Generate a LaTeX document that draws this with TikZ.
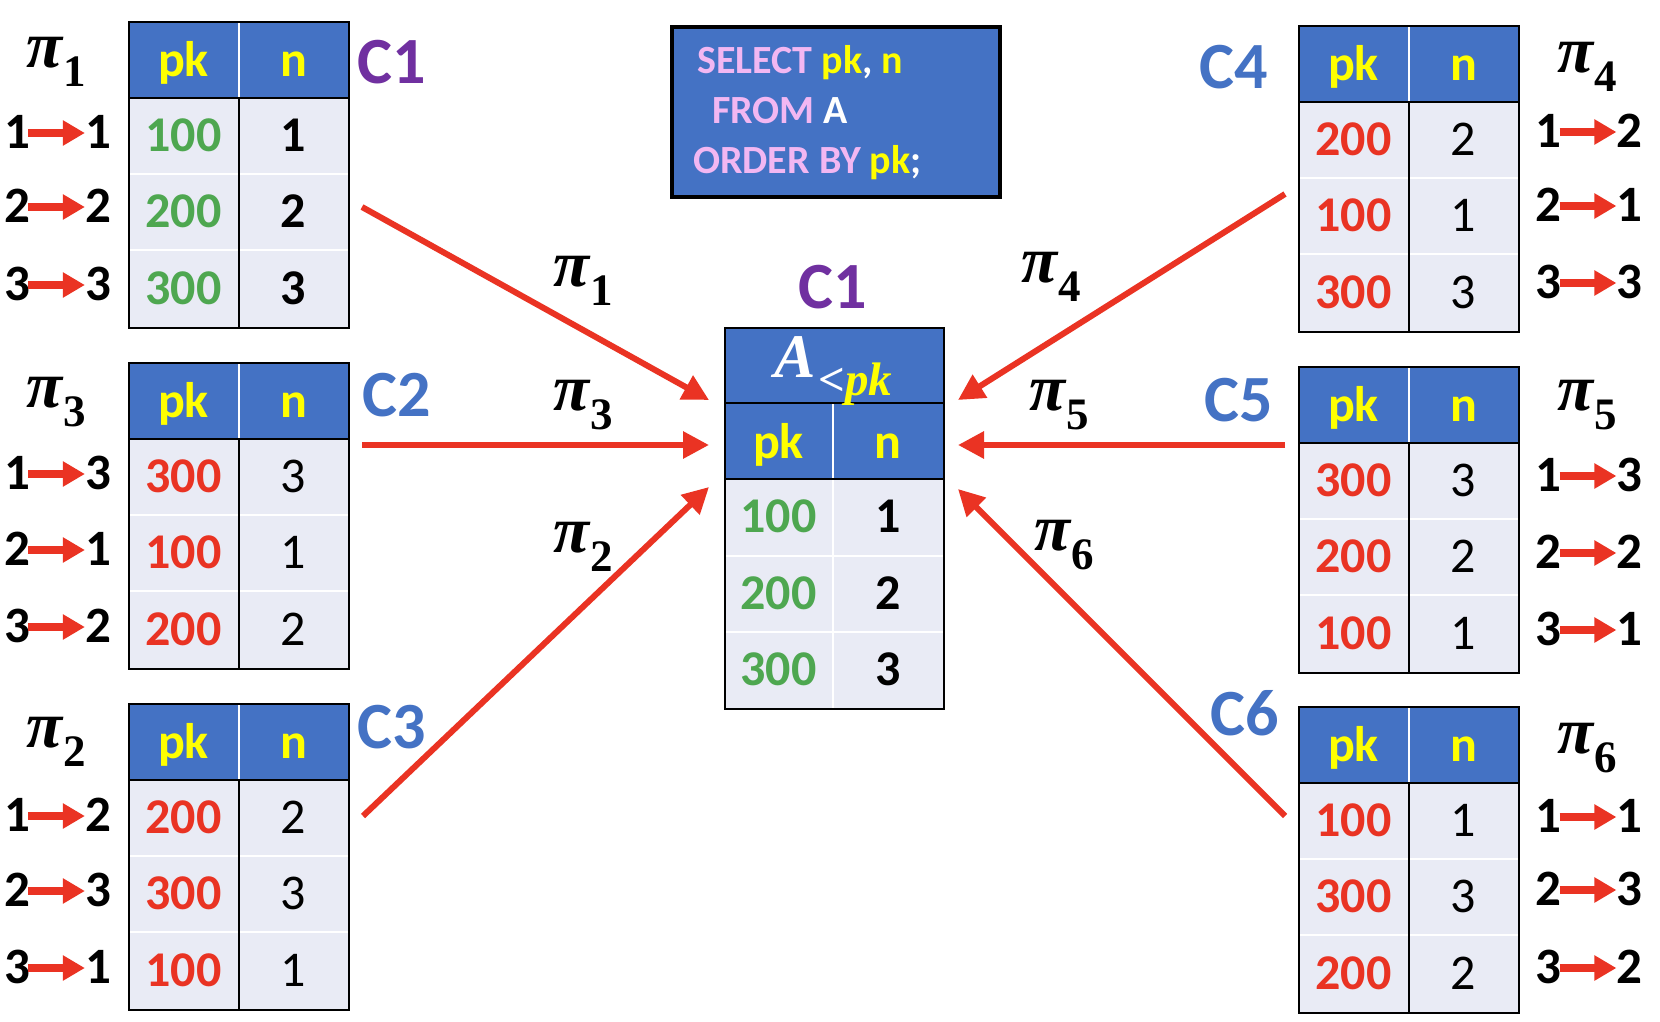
\documentclass[tikz,border=0pt]{standalone}
\usepackage{fontspec}
\setmainfont{Carlito}
\newfontfamily\pifont{Liberation Serif}
\usetikzlibrary{arrows.meta,calc}
\definecolor{hdrblue}{RGB}{68,114,196}
\definecolor{bodyc}{RGB}{233,235,245}
\definecolor{pkgreen}{RGB}{78,167,80}
\definecolor{pkred}{RGB}{233,51,35}
\definecolor{hdryel}{RGB}{255,255,0}
\definecolor{sqlpink}{RGB}{242,183,242}
\definecolor{cpurple}{RGB}{112,48,160}
\definecolor{cblue}{RGB}{68,114,196}
\definecolor{arrred}{RGB}{234,51,35}
\newcommand\pkG[1]{\textcolor{pkgreen}{#1}}
\newcommand\pkR[1]{\textcolor{pkred}{#1}}
\newcommand\nBo[1]{\textcolor{black}{#1}}
\newcommand\nRe[1]{\textcolor{black}{\mdseries #1}}
\newcommand\piS[1]{{\pifont\bfseries\itshape π}\kern1pt\raisebox{-0.28em}{\pifont\bfseries\fontsize{45}{45}\selectfont #1}}
\tikzset{
  cell/.style={font=\fontsize{50}{50}\selectfont\bfseries, inner sep=0pt, text height=31pt, text depth=0pt, anchor=center},
  hdrtxt/.style={cell, text=hdryel},
  mapd/.style={font=\fontsize{51}{51}\selectfont\bfseries, inner sep=0pt, text height=31pt, text depth=0pt},
  maparrow/.style={draw=arrred, line width=8pt, -{Triangle[length=22pt,width=24pt]}, shorten <=-2pt},
  bigarrow/.style={draw=arrred, line width=6pt, -{Triangle[length=26pt,width=26pt]}},
  clabel/.style={font=\fontsize{66}{66}\selectfont\bfseries, inner sep=0pt},
  pilabel/.style={font=\fontsize{66}{66}\selectfont, inner sep=0pt},
  sqltxt/.style={font=\fontsize{40}{40}\selectfont\bfseries, inner sep=0pt, anchor=west, text height=27pt, text depth=0pt},
}
\newcommand\dbtable[9]{%
  \begin{scope}[shift={(#2,#3)}]
    \fill[hdrblue] (0,0) rectangle (220,77);
    \fill[bodyc] (0,77) rectangle (220,306);
    \draw[white, line width=2pt] (0,153) -- (220,153) (0,229) -- (220,229);
    \draw[white, line width=1.5pt] (111,0) -- (111,77);
    \draw[black, line width=2pt] (111,77) -- (111,306);
    \draw[black, line width=2pt] (0,77) -- (220,77);
    \node[draw=black, line width=2pt, minimum width=220pt, minimum height=306pt, anchor=north west, inner sep=0pt] (#1) at (0,0) {};
    \node[hdrtxt] (#1-h1) at (55.5,40) {pk};
    \node[hdrtxt] (#1-h2) at (165.5,40) {n};
    \node[cell] (#1-a1) at (55.5,115) {#4};
    \node[cell] (#1-b1) at (165.5,115) {#5};
    \node[cell] (#1-a2) at (55.5,191) {#6};
    \node[cell] (#1-b2) at (165.5,191) {#7};
    \node[cell] (#1-a3) at (55.5,268) {#8};
    \node[cell] (#1-b3) at (165.5,268) {#9};
  \end{scope}}
\newcommand\maprow[5]{%
  \node[mapd] (#1a) at (#2-40.5,#3) {#4};
  \node[mapd] (#1b) at (#2+40.5,#3) {#5};
  \draw[maparrow] (#1a.east) -- (#1b.west);}
\begin{document}
\begin{tikzpicture}[x=1pt,y=-1pt]
\fill[white] (0,0) rectangle (1660,1022);
\useasboundingbox (0,0) rectangle (1660,1022);

% side tables
\dbtable{t1}{128}{21}{\pkG{100}}{\nBo{1}}{\pkG{200}}{\nBo{2}}{\pkG{300}}{\nBo{3}}
\dbtable{t2}{128}{362}{\pkR{300}}{\nRe{3}}{\pkR{100}}{\nRe{1}}{\pkR{200}}{\nRe{2}}
\dbtable{t3}{128}{703}{\pkR{200}}{\nRe{2}}{\pkR{300}}{\nRe{3}}{\pkR{100}}{\nRe{1}}
\dbtable{t4}{1298}{25}{\pkR{200}}{\nRe{2}}{\pkR{100}}{\nRe{1}}{\pkR{300}}{\nRe{3}}
\dbtable{t5}{1298}{366}{\pkR{300}}{\nRe{3}}{\pkR{200}}{\nRe{2}}{\pkR{100}}{\nRe{1}}
\dbtable{t6}{1298}{706}{\pkR{100}}{\nRe{1}}{\pkR{300}}{\nRe{3}}{\pkR{200}}{\nRe{2}}

% centre table
\begin{scope}[shift={(724,327)}]
  \fill[hdrblue] (0,0) rectangle (219,152);
  \fill[bodyc] (0,152) rectangle (219,381);
  \draw[white, line width=2pt] (0,229) -- (219,229) (0,305) -- (219,305);
  \draw[white, line width=2pt] (109,76) -- (109,381);
  \draw[black, line width=2pt] (0,76) -- (219,76) (0,152) -- (219,152);
  \node[draw=black, line width=2pt, minimum width=219pt, minimum height=381pt, anchor=north west, inner sep=0pt] (ct) at (0,0) {};
  \node[inner sep=0pt, font=\fontsize{62}{62}\selectfont\pifont\bfseries, text=white] (ct-title) at (109.5,44)
     {\textit{A}\kern2pt\raisebox{-0.3em}{\fontsize{47}{47}\selectfont<\textcolor{hdryel}{\textit{pk}}}};
  \node[hdrtxt] (ct-h1) at (54.5,116) {pk};
  \node[hdrtxt] (ct-h2) at (164,116) {n};
  \node[cell] (ct-a1) at (54.5,190) {\pkG{100}};
  \node[cell] (ct-b1) at (164,190) {1};
  \node[cell] (ct-a2) at (54.5,267) {\pkG{200}};
  \node[cell] (ct-b2) at (164,267) {2};
  \node[cell] (ct-a3) at (54.5,343) {\pkG{300}};
  \node[cell] (ct-b3) at (164,343) {3};
\end{scope}

% SQL box
\node[draw=black, line width=4pt, fill=hdrblue, minimum width=328pt, minimum height=170pt, anchor=north west, inner sep=0pt] (sql) at (670,25) {};
\node[sqltxt] (sql1) at (697,60) {\textcolor{sqlpink}{SELECT} \textcolor{hdryel}{pk}\textcolor{white}{,} \textcolor{hdryel}{n}};
\node[sqltxt] (sql2) at (712,110) {\textcolor{sqlpink}{FROM} \textcolor{white}{A}};
\node[sqltxt] (sql3) at (693,160) {\textcolor{sqlpink}{ORDER BY} \textcolor{hdryel}{pk}\textcolor{white}{;}};

% C labels
\node[clabel, text=cpurple] (lc1) at (392,62) {C1};
\node[clabel, text=cblue] (lc2) at (397,395) {C2};
\node[clabel, text=cblue] (lc3) at (392,727) {C3};
\node[clabel, text=cblue] (lc4) at (1234,67) {C4};
\node[clabel, text=cblue] (lc5) at (1239,400) {C5};
\node[clabel, text=cblue] (lc6) at (1245,713) {C6};
\node[clabel, text=cpurple] (lcc) at (833,287) {C1};

% pi labels beside tables
\node[pilabel] (p1) at (56,62) {\piS{1}};
\node[pilabel] (p3) at (56,402) {\piS{3}};
\node[pilabel] (p2) at (56,742) {\piS{2}};
\node[pilabel] (p4) at (1587,67) {\piS{4}};
\node[pilabel] (p5) at (1587,405) {\piS{5}};
\node[pilabel] (p6) at (1587,748) {\piS{6}};

% mappings
\maprow{m11}{57.5}{133}{1}{1}
\maprow{m12}{57.5}{207}{2}{2}
\maprow{m13}{57.5}{285}{3}{3}
\maprow{m31}{57.5}{474}{1}{3}
\maprow{m32}{57.5}{550}{2}{1}
\maprow{m33}{57.5}{627}{3}{2}
\maprow{m21}{57.5}{816}{1}{2}
\maprow{m22}{57.5}{891}{2}{3}
\maprow{m23}{57.5}{968}{3}{1}
\maprow{m41}{1589}{132}{1}{2}
\maprow{m42}{1589}{206}{2}{1}
\maprow{m43}{1589}{283}{3}{3}
\maprow{m51}{1589}{476}{1}{3}
\maprow{m52}{1589}{553}{2}{2}
\maprow{m53}{1589}{630}{3}{1}
\maprow{m61}{1589}{817}{1}{1}
\maprow{m62}{1589}{890}{2}{3}
\maprow{m63}{1589}{968}{3}{2}

% big arrows
\coordinate (s1) at (362,207);  \coordinate (e1) at (709,400);
\coordinate (s3) at (362,445);  \coordinate (e3) at (709,445);
\coordinate (s2) at (363,816);  \coordinate (e2) at (709,487);
\coordinate (s4) at (1285,194); \coordinate (e4) at (958,400);
\coordinate (s5) at (1285,445); \coordinate (e5) at (958,445);
\coordinate (s6) at (1285,816); \coordinate (e6) at (958,489);
\draw[bigarrow] (s1) -- (e1);
\draw[bigarrow] (s3) -- (e3);
\draw[bigarrow] (s2) -- (e2);
\draw[bigarrow] (s4) -- (e4);
\draw[bigarrow] (s5) -- (e5);
\draw[bigarrow] (s6) -- (e6);

% arrow labels
\node[pilabel] (q1) at (583,281) {\piS{1}};
\node[pilabel] (q3) at (583,405) {\piS{3}};
\node[pilabel] (q2) at (583,547) {\piS{2}};
\node[pilabel] (q4) at (1051,277) {\piS{4}};
\node[pilabel] (q5) at (1059,405) {\piS{5}};
\node[pilabel] (q6) at (1064,545) {\piS{6}};
\end{tikzpicture}
\end{document}
